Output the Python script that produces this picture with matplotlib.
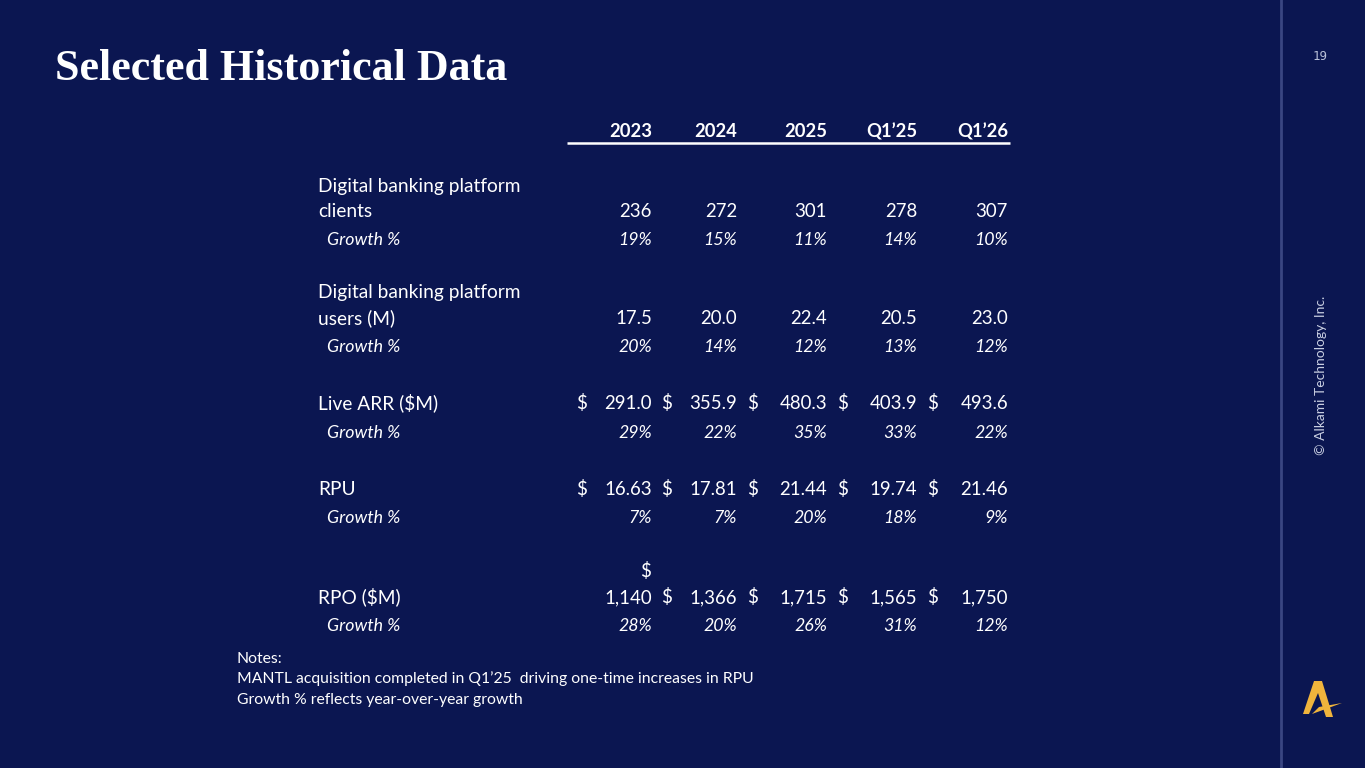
import matplotlib
matplotlib.use("Agg")
import matplotlib.pyplot as plt
from matplotlib.patches import Polygon

# ---------------- data ----------------
periods = ["2023", "2024", "2025", "Q1\u201925", "Q1\u201926"]
clients = [236, 272, 301, 278, 307]
clients_growth = [19, 15, 11, 14, 10]
users_m = [17.5, 20.0, 22.4, 20.5, 23.0]
users_growth = [20, 14, 12, 13, 12]
live_arr_m = [291.0, 355.9, 480.3, 403.9, 493.6]
arr_growth = [29, 22, 35, 33, 22]
rpu = [16.63, 17.81, 21.44, 19.74, 21.46]
rpu_growth = [7, 7, 20, 18, 9]
rpo_m = [1140, 1366, 1715, 1565, 1750]
rpo_growth = [28, 20, 26, 31, 12]

title = "Selected Historical Data"
notes = ["Notes:",
         "MANTL acquisition completed in Q1\u201925  driving one-time increases in RPU",
         "Growth % reflects year-over-year growth"]
page_no = "19"
copyright_txt = "\u00a9 Alkami Technology, Inc."

# ---------------- style ----------------
BG = "#0b1651"
WHITE = "#ffffff"
LINE = "#3a4682"
GOLD = "#f0b43c"
BODY = "Lato"
W, H = 1365, 768

fig = plt.figure(figsize=(W / 100, H / 100), dpi=100, facecolor=BG)
ax = fig.add_axes([0, 0, 1, 1])
ax.set_facecolor(BG)
ax.set_xlim(0, W)
ax.set_ylim(H, 0)
ax.axis("off")

# title
t = ax.text(55, 80, title, color=WHITE, fontsize=33, fontweight="bold",
            family="Liberation Serif", ha="left", va="baseline")
fig.canvas.draw()
bb = t.get_window_extent()
t.set_fontsize(33 * 453 / bb.width)

# right strip
ax.plot([1281, 1281], [0, H], color=LINE, lw=2)
ax.text(1320, 57, page_no, color="#b9c0d8", fontsize=9, family="DejaVu Sans Mono",
        ha="center", va="center")
ax.text(1321, 375, copyright_txt, color="#c9cfe2", fontsize=10, family=BODY,
        rotation=90, ha="center", va="center")
# logo
ax.add_patch(Polygon([(1303, 714), (1314, 681), (1322, 681), (1318, 693), (1309, 714)],
                     closed=True, color=GOLD, lw=0))
ax.add_patch(Polygon([(1314, 681), (1322, 681), (1333, 717), (1326, 717)],
                     closed=True, color=GOLD, lw=0))
ax.add_patch(Polygon([(1312, 714), (1342, 703), (1319, 707)],
                     closed=True, color=GOLD, lw=0))

# table geometry
col_right = [652, 737, 827, 917, 1008]
dollar_x = [576, 661, 747, 837, 927]
label_x = 318
growth_x = 327
FS = 13.4
LFS = 13.8
GFS = 12.8

# header
for x, p in zip(col_right, periods):
    ax.text(x, 137, p, color=WHITE, fontsize=13.2, fontweight="bold", family=BODY,
            ha="right", va="baseline")
ax.plot([567, 1010], [142.5, 142.5], color=WHITE, lw=1.8, solid_capstyle="butt")


def label(y, s, italic=False):
    ax.text(growth_x if italic else label_x, y, s, color=WHITE,
            fontsize=GFS if italic else LFS, family=BODY,
            style="italic" if italic else "normal", ha="left", va="baseline")


def values(y, vals, fmt, dollar=False, wrap_first=False):
    for i, (x, v) in enumerate(zip(col_right, vals)):
        ax.text(x, y, fmt.format(v), color=WHITE, fontsize=FS, family=BODY,
                ha="right", va="baseline")
        if dollar:
            if wrap_first and i == 0:
                ax.text(x - 1, y - 26, "$", color=WHITE, fontsize=FS, family=BODY,
                        ha="right", va="baseline")
            else:
                ax.text(dollar_x[i], y, "$", color=WHITE, fontsize=FS, family=BODY,
                        ha="left", va="baseline")


def growth(y, vals):
    label(y, "Growth %", italic=True)
    for x, v in zip(col_right, vals):
        ax.text(x, y, f"{v}%", color=WHITE, fontsize=GFS, family=BODY,
                style="italic", ha="right", va="baseline")


label(192, "Digital banking platform")
label(217, "clients")
values(217, clients, "{:d}")
growth(245, clients_growth)

label(298, "Digital banking platform")
label(324, "users (M)")
values(324, users_m, "{:.1f}")
growth(352, users_growth)

label(409, "Live ARR ($M)")
values(409, live_arr_m, "{:.1f}", dollar=True)
growth(438, arr_growth)

label(495, "RPU")
values(495, rpu, "{:.2f}", dollar=True)
growth(523, rpu_growth)

label(603, "RPO ($M)")
values(603, rpo_m, "{:,d}", dollar=True, wrap_first=True)
growth(631, rpo_growth)

for i, s in enumerate(notes):
    ax.text(237, 663 + 20.5 * i, s, color=WHITE, fontsize=11.3, family=BODY,
            ha="left", va="baseline")

fig.savefig("out.png", dpi=100, facecolor=BG)
